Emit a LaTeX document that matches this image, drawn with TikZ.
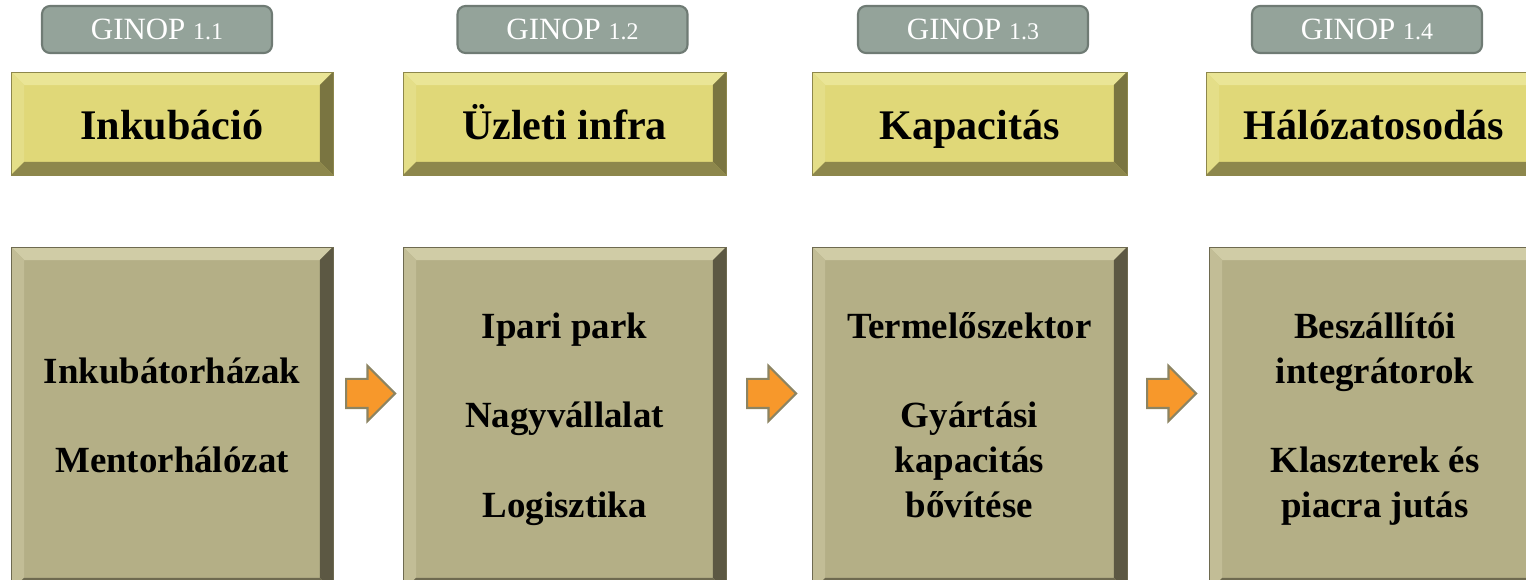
\documentclass[tikz,border=0pt]{standalone}
\usepackage{fontspec}
\setmainfont{Liberation Serif}
\usetikzlibrary{shapes.arrows}

\definecolor{ginopfill}{HTML}{94A39A}
\definecolor{ginopline}{HTML}{6F7B74}
\definecolor{headface}{HTML}{E0D878}
\definecolor{headtop}{HTML}{EAE596}
\definecolor{headleft}{HTML}{E4DE88}
\definecolor{headright}{HTML}{7A7541}
\definecolor{headbot}{HTML}{8D874C}
\definecolor{mainface}{HTML}{B4AF86}
\definecolor{maintop}{HTML}{D0CCA6}
\definecolor{mainleft}{HTML}{C2BD96}
\definecolor{mainright}{HTML}{5C5843}
\definecolor{mainbot}{HTML}{6E6A50}
\definecolor{arrowfill}{HTML}{F7982B}
\definecolor{arrowline}{HTML}{8C8462}

\tikzset{
  bevelbox/.style n args={5}{fill=#1, draw=#5, line width=0.4pt, inner sep=0pt,
    path picture={
      \fill[#2] (path picture bounding box.north west) -- (path picture bounding box.north east)
        -- ([xshift=-0.26cm,yshift=-0.26cm]path picture bounding box.north east)
        -- ([xshift=0.26cm,yshift=-0.26cm]path picture bounding box.north west) -- cycle;
      \fill[#3] (path picture bounding box.north west) -- (path picture bounding box.south west)
        -- ([xshift=0.26cm,yshift=0.26cm]path picture bounding box.south west)
        -- ([xshift=0.26cm,yshift=-0.26cm]path picture bounding box.north west) -- cycle;
      \fill[#4] (path picture bounding box.north east) -- (path picture bounding box.south east)
        -- ([xshift=-0.26cm,yshift=0.26cm]path picture bounding box.south east)
        -- ([xshift=-0.26cm,yshift=-0.26cm]path picture bounding box.north east) -- cycle;
      \fill[#5] (path picture bounding box.south west) -- (path picture bounding box.south east)
        -- ([xshift=-0.26cm,yshift=0.26cm]path picture bounding box.south east)
        -- ([xshift=0.26cm,yshift=0.26cm]path picture bounding box.south west) -- cycle;
    }},
  ginop/.style={draw=ginopline, line width=1.2pt, fill=ginopfill, rounded corners=0.16cm,
    minimum width=4.6cm, minimum height=0.94cm, inner sep=0pt, text=white,
    font=\fontsize{17.6}{20}\selectfont},
  headbox/.style={bevelbox={headface}{headtop}{headleft}{headright}{headbot},
    minimum height=2.06cm, text height=0.8cm, text depth=0.14cm,
    font=\bfseries\fontsize{24}{28}\selectfont},
  mainbox/.style={bevelbox={mainface}{maintop}{mainleft}{mainright}{mainbot},
    minimum height=6.88cm, align=center, font=\bfseries\fontsize{21}{25.5}\selectfont},
  flowarrow/.style={single arrow, draw=arrowline, line width=1.2pt, fill=arrowfill,
    inner xsep=0pt, inner ysep=0.27cm, minimum height=0.98cm,
    single arrow head extend=0.26cm, anchor=west}
}

\newcommand{\subno}[1]{{\fontsize{13.6}{16}\selectfont #1}}

\begin{document}
\begin{tikzpicture}[x=0.02cm,y=-0.02cm]
  \useasboundingbox (0,0) rectangle (1526,580);
  \clip (0,0) rectangle (1526,580);

  % GINOP labels
  \node[ginop] (g1) at (157,29.5) {GINOP \subno{1.1}};
  \node[ginop] (g2) at (572.5,29.5) {GINOP \subno{1.2}};
  \node[ginop] (g3) at (973,29.5) {GINOP \subno{1.3}};
  \node[ginop] (g4) at (1367,29.5) {GINOP \subno{1.4}};

  % Headings
  \node[headbox, minimum width=6.44cm] (h1) at (172,123.5) {Inkubáció};
  \node[headbox, minimum width=6.46cm] (h2) at (564.5,123.5) {Üzleti infra};
  \node[headbox, minimum width=6.3cm] (h3) at (969.5,123.5) {Kapacitás};
  \node[headbox, minimum width=6.72cm] (h4) at (1374,123.5) {Hálózatosodás};

  % Contents (boxes run past the lower edge)
  \node[mainbox, minimum width=6.44cm] (b1) at (172,419)
    {\strut Inkubátorházak\\[25.5pt]Mentorhálózat\strut};
  \node[mainbox, minimum width=6.46cm] (b2) at (564.5,419)
    {\strut Ipari park\\[25.5pt]Nagyvállalat\\[25.5pt]Logisztika\strut};
  \node[mainbox, minimum width=6.3cm] (b3) at (969.5,419)
    {\strut Termelőszektor\\[25.5pt]Gyártási\\kapacitás\\bővítése\strut};
  \node[mainbox, minimum width=6.64cm] (b4) at (1375,419)
    {\strut Beszállítói\\integrátorok\\[25.5pt]Klaszterek és\\piacra jutás\strut};

  % Arrows
  \node[flowarrow] (a1) at (345,393.5) {};
  \node[flowarrow] (a2) at (746,393.5) {};
  \node[flowarrow] (a3) at (1146,393.5) {};
\end{tikzpicture}
\end{document}
